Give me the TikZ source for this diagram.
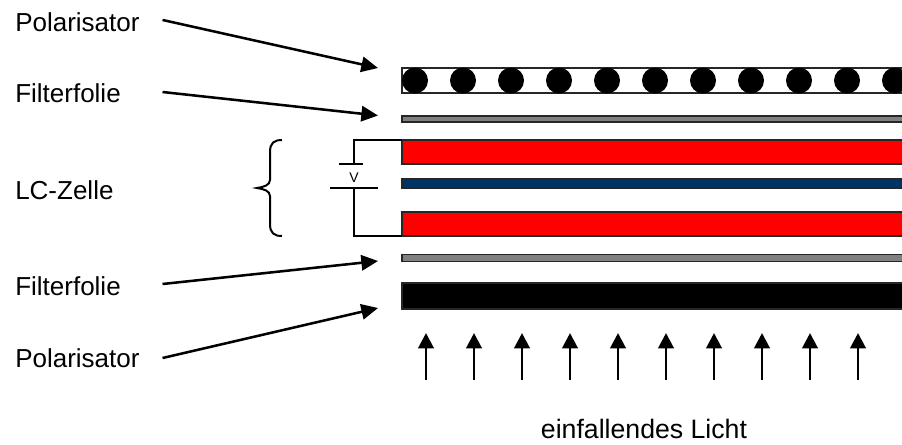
\documentclass[tikz,border=0pt]{standalone}
\usepackage{fontspec}
\setmainfont{Liberation Sans}
\usetikzlibrary{arrows.meta}
\definecolor{lcblue}{HTML}{003366}
\begin{document}
\begin{tikzpicture}[
        x=0.75pt,
        y=-0.75pt,
        font=\fontsize{19.5}{23}\selectfont,
        label/.style={anchor=west, inner sep=0pt, text width=110.25pt, text height=14pt, text depth=0pt, align=left},
        layer/.style={anchor=north west, draw=black!85, line width=1.4pt, inner sep=0pt, outer sep=0pt, minimum width=390pt},
        pointer/.style={-{Triangle[length=12.5pt, width=11.5pt]}, line width=1.9pt, black},
        ray/.style={-{Triangle[length=11.5pt, width=11.5pt]}, line width=2.2pt, black},
        wire/.style={line width=1.5pt, black}
    ]
        \clip (0,0) rectangle (902,444);

        % Schichten
        \node[layer, minimum height=18.75pt, fill=white] (polTop) at (402,68) {};
        \foreach \x in {415,463,...,895}
            \fill[black] (\x,80.5) circle (9.75pt);
        \node[layer, minimum height=4.5pt, fill=gray] (filterTop) at (402,116) {};
        \node[layer, minimum height=18pt, fill=red] (redTop) at (402,140) {};
        \node[layer, minimum height=6.75pt, fill=lcblue] (lcMid) at (402,179) {};
        \node[layer, minimum height=18pt, fill=red] (redBottom) at (402,212) {};
        \node[layer, minimum height=5.25pt, fill=gray] (filterBottom) at (402,254.5) {};
        \node[layer, minimum height=19.5pt, fill=black] (polBottom) at (402,283) {};

        % Spannungsquelle
        \coordinate (plateTop) at (354,164);
        \coordinate (plateBottom) at (354,188);
        \draw[wire] (redTop.north west) -| (plateTop);
        \draw[wire] (redBottom.south west) -| (plateBottom);
        \draw[wire] (339,164) -- (363,164);
        \draw[wire] (330,188) -- (378,188);
        \node[font=\fontsize{10.5}{12}\selectfont, inner sep=0pt] (volt) at (354,178) {V};

        % Klammer
        \draw[line width=1.5pt, black] (282,140) .. controls (274,140) and (270,143) .. (270,152)
            -- (270,180) .. controls (270,185) and (264,187) .. (257,188)
            .. controls (264,189) and (270,191) .. (270,196)
            -- (270,224) .. controls (270,233) and (274,236) .. (282,236);

        % Beschriftung
        \node[label] (labelPolTop) at (15,22.5) {Polarisator};
        \node[label] (labelFilterTop) at (15,93) {Filterfolie};
        \node[label] (labelLc) at (15,190) {LC-Zelle};
        \node[label] (labelFilterBottom) at (15,286) {Filterfolie};
        \node[label] (labelPolBottom) at (15,358) {Polarisator};
        \node[inner sep=0pt, text height=14pt, text depth=0pt, font=\fontsize{20}{24}\selectfont] (labelLight) at (644,429.5) {einfallendes Licht};

        % Pfeile
        \coordinate (tipPolTop) at (378,68);
        \coordinate (tipFilterTop) at (378,115.5);
        \coordinate (tipFilterBottom) at (378,261);
        \coordinate (tipPolBottom) at (378,308);
        \draw[pointer] ([yshift=1.9pt]labelPolTop.east) -- (tipPolTop);
        \draw[pointer] ([yshift=0.75pt]labelFilterTop.east) -- (tipFilterTop);
        \draw[pointer] ([yshift=1.5pt]labelFilterBottom.east) -- (tipFilterBottom);
        \draw[pointer] (labelPolBottom.east) -- (tipPolBottom);

        % Licht
        \foreach \x in {426,474,...,858}
            \draw[ray] (\x,380) -- (\x,333);

    \end{tikzpicture}
\end{document}
